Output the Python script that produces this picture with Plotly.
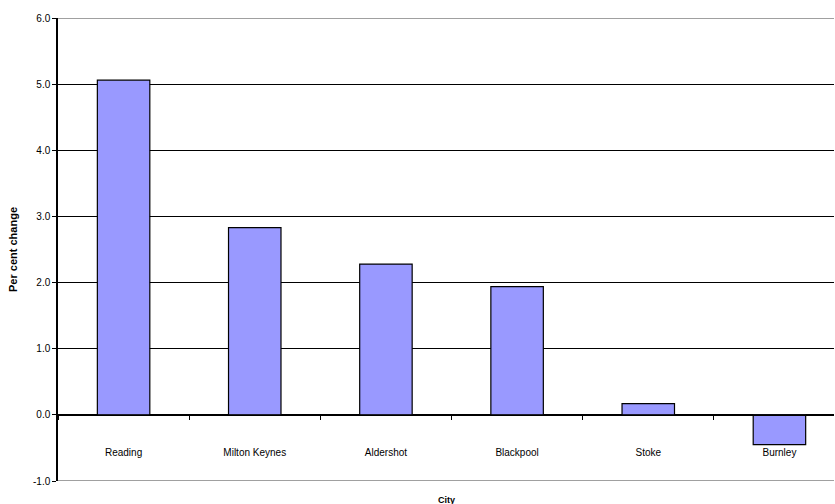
import plotly.graph_objects as go

cities = ["Reading", "Milton Keynes", "Aldershot", "Blackpool", "Stoke", "Burnley"]
pct_change = [5.06, 2.83, 2.28, 1.94, 0.17, -0.45]
y_ticks = [-1.0, 0.0, 1.0, 2.0, 3.0, 4.0, 5.0, 6.0]
y_range = [-1.0, 6.0]
# the original plot area runs slightly past the right edge of the image
x_range = [-0.5, 5.416]

FONT = "Arial, Liberation Sans, sans-serif"

fig = go.Figure()
fig.add_trace(go.Bar(
    x=cities, y=pct_change, width=0.4,
    marker=dict(color="#9999FF", line=dict(color="black", width=1.2)),
))

fig.update_layout(
    width=835, height=504,
    margin=dict(l=58, r=1, t=18, b=23),
    paper_bgcolor="white", plot_bgcolor="white",
    showlegend=False,
    font=dict(family=FONT, size=10, color="black"),
    xaxis=dict(
        type="category", range=x_range,
        anchor="free", position=(0 - y_range[0]) / (y_range[1] - y_range[0]),
        showline=True, linecolor="black", linewidth=1,
        ticks="outside", tickson="boundaries", ticklen=4, tickcolor="black",
        showgrid=False, ticklabelstandoff=28,
        tickfont=dict(family=FONT, size=10, color="black"),
        title=None,
    ),
    yaxis=dict(
        range=y_range, tickvals=y_ticks,
        ticktext=[f"{v:.1f}" for v in y_ticks],
        showline=True, linecolor="black", linewidth=1.5,
        ticks="outside", ticklen=4, tickcolor="black",
        showgrid=True, gridcolor="black", gridwidth=1,
        zeroline=True, zerolinecolor="black", zerolinewidth=1,
        tickfont=dict(family=FONT, size=10, color="black"),
        title=dict(text="<b>Per cent change</b>", font=dict(family=FONT, size=11), standoff=13),
    ),
)

for yv in y_range:
    fig.add_shape(type="line", xref="paper", yref="y", x0=0, x1=1, y0=yv, y1=yv,
                  line=dict(color="#808080", width=1.5), layer="above")

fig.add_annotation(text="<b>City</b>", xref="paper", yref="paper", x=0.5, y=0,
                   yshift=-19, yanchor="middle", showarrow=False,
                   font=dict(family=FONT, size=9, color="black"))

fig.write_html("out.html")
